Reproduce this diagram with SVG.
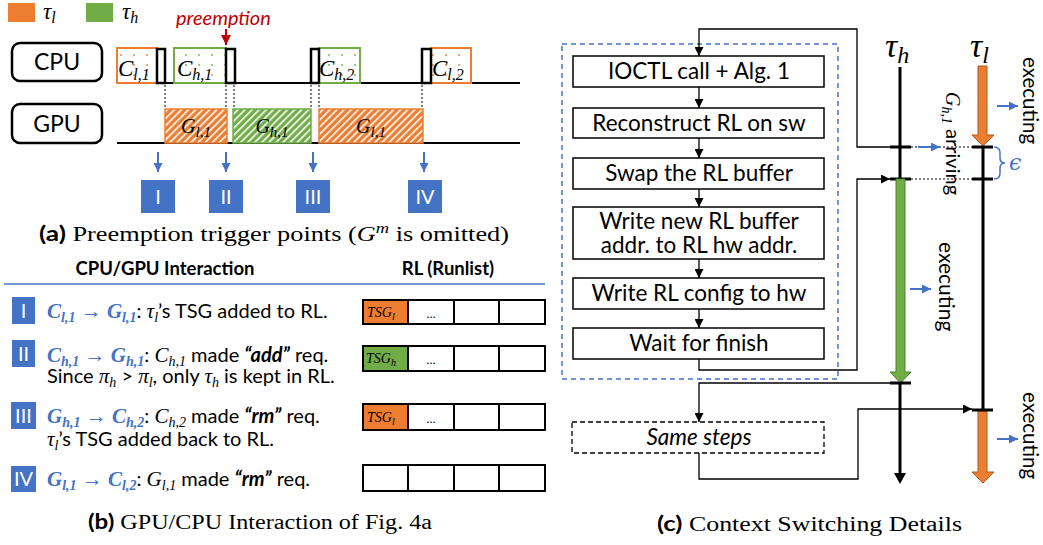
<svg xmlns="http://www.w3.org/2000/svg" width="1043" height="545" viewBox="0 0 1043 545">
<style>
.s{font-family:Lato,'Liberation Sans',sans-serif}
.m{font-family:'Liberation Serif',serif;font-style:italic}
.cap{font-family:'Liberation Serif',serif;font-size:20px}
.t{font-family:Lato,'Liberation Sans',sans-serif;font-size:20px;fill:#000}
.mb{font-family:'Liberation Serif',serif;font-style:italic;font-weight:bold;fill:#4472C4;font-size:21px}
.mbs{font-family:'Liberation Serif',serif;font-style:italic;font-weight:bold;fill:#4472C4;font-size:14px}
.mi{font-family:'Liberation Serif',serif;font-style:italic;font-size:21px}
.mis{font-family:'Liberation Serif',serif;font-style:italic;font-size:14px}
.box{fill:#fff;stroke:#000;stroke-width:1.5}
.cell{fill:#fff;stroke:#000;stroke-width:2}
.bt{font-family:Lato,'Liberation Sans',sans-serif;font-size:22.5px;text-anchor:middle}
.dot{stroke:#7f7f7f;stroke-width:2;stroke-dasharray:2 2;fill:none}
.tick{stroke:#000;stroke-width:3}
.con{fill:none;stroke:#000;stroke-width:1.3}
.ba{stroke:#4472C4;stroke-width:2;fill:none}
.sq{fill:#4472C4}
.sqt{font-family:Lato,'Liberation Sans',sans-serif;font-size:20px;fill:#fff;text-anchor:middle}
</style>
<defs>
<pattern id="hO" width="5" height="5" patternUnits="userSpaceOnUse" patternTransform="rotate(45)">
<rect width="5" height="5" fill="#ED7D31"/><rect width="1.6" height="5" fill="#fff"/></pattern>
<pattern id="hG" width="5" height="5" patternUnits="userSpaceOnUse" patternTransform="rotate(45)">
<rect width="5" height="5" fill="#70AD47"/><rect width="1.6" height="5" fill="#fff"/></pattern>
<pattern id="dO" width="13" height="10" patternUnits="userSpaceOnUse">
<rect width="13" height="10" fill="#fff"/><circle cx="4" cy="5" r="0.9" fill="#ED7D31"/></pattern>
<pattern id="dG" width="13" height="10" patternUnits="userSpaceOnUse">
<rect width="13" height="10" fill="#fff"/><circle cx="4" cy="5" r="0.9" fill="#70AD47"/></pattern>
<marker id="ak" viewBox="0 0 10 10" refX="10" refY="5" markerWidth="9" markerHeight="9" markerUnits="userSpaceOnUse" orient="auto"><path d="M0,0L10,5L0,10z" fill="#000"/></marker>
<marker id="ab" viewBox="0 0 10 10" refX="10" refY="5" markerWidth="9" markerHeight="9" markerUnits="userSpaceOnUse" orient="auto"><path d="M0,0L10,5L0,10z" fill="#4472C4"/></marker>
<marker id="ar" viewBox="0 0 10 10" refX="10" refY="5" markerWidth="10" markerHeight="10" markerUnits="userSpaceOnUse" orient="auto"><path d="M0,0L10,5L0,10z" fill="#C00000"/></marker>
</defs>

<!-- Legend -->
<g id="legend">
<rect x="8" y="3" width="27" height="19" fill="#ED7D31"/>
<text x="43" y="19" class="m" font-size="23">τ<tspan font-size="16" dy="4">l</tspan></text>
<rect x="86" y="3" width="27" height="19" fill="#70AD47"/>
<text x="122" y="19" class="m" font-size="23">τ<tspan font-size="16" dy="4">h</tspan></text>
</g>

<!-- Panel a -->
<g id="cpu">
<rect x="12" y="43" width="90" height="38" rx="8" fill="#fff" stroke="#000" stroke-width="2.5"/>
<text x="57" y="70" class="s" font-size="23" text-anchor="middle">CPU</text>
</g>
<g id="gpu">
<rect x="12" y="104" width="90" height="39" rx="8" fill="#fff" stroke="#000" stroke-width="2.5"/>
<text x="57" y="132" class="s" font-size="23" text-anchor="middle">GPU</text>
</g>
<g id="axes">
<line x1="117" y1="83" x2="520" y2="83" stroke="#000" stroke-width="2"/>
<line x1="117" y1="143" x2="520" y2="143" stroke="#000" stroke-width="2"/>
</g>
<g id="preempt">
<text x="176" y="25" class="s" font-size="20" font-style="italic" fill="#C00000">preemption</text>
<line x1="226" y1="29" x2="226" y2="45" stroke="#C00000" stroke-width="2" marker-end="url(#ar)"/>
</g>
<g id="cpu-tasks">
<rect x="117" y="48" width="40" height="35" fill="url(#dO)" stroke="#ED7D31" stroke-width="2"/>
<rect x="157" y="49" width="8" height="34" fill="#fff" stroke="#000" stroke-width="2.5"/>
<text x="118" y="76" class="m" font-size="23">C<tspan font-size="16" dy="4">l,1</tspan></text>
<rect x="174" y="48" width="52" height="35" fill="url(#dG)" stroke="#70AD47" stroke-width="2"/>
<rect x="226" y="49" width="9" height="34" fill="#fff" stroke="#000" stroke-width="2.5"/>
<text x="177" y="76" class="m" font-size="23">C<tspan font-size="16" dy="4">h,1</tspan></text>
<rect x="319" y="48" width="41" height="35" fill="url(#dG)" stroke="#70AD47" stroke-width="2"/>
<rect x="311" y="49" width="8" height="34" fill="#fff" stroke="#000" stroke-width="2.5"/>
<text x="319" y="76" class="m" font-size="23">C<tspan font-size="16" dy="4">h,2</tspan></text>
<rect x="431" y="48" width="40" height="35" fill="url(#dO)" stroke="#ED7D31" stroke-width="2"/>
<rect x="422" y="49" width="9" height="34" fill="#fff" stroke="#000" stroke-width="2.5"/>
<text x="432" y="76" class="m" font-size="23">C<tspan font-size="16" dy="4">l,2</tspan></text>
</g>
<g id="gpu-tasks">
<rect x="165" y="109" width="62" height="34" fill="url(#hO)" stroke="#ED7D31" stroke-width="1.5"/>
<text x="196" y="133" class="m" font-size="20" text-anchor="middle">G<tspan font-size="15" dy="4">l,1</tspan></text>
<rect x="233" y="109" width="78" height="34" fill="url(#hG)" stroke="#70AD47" stroke-width="1.5"/>
<text x="272" y="133" class="m" font-size="20" text-anchor="middle">G<tspan font-size="15" dy="4">h,1</tspan></text>
<rect x="319" y="109" width="104" height="34" fill="url(#hO)" stroke="#ED7D31" stroke-width="1.5"/>
<text x="371" y="133" class="m" font-size="20" text-anchor="middle">G<tspan font-size="15" dy="4">l,1</tspan></text>
</g>
<g id="dotted">
<line class="dot" x1="165" y1="85" x2="165" y2="109"/>
<line class="dot" x1="226" y1="85" x2="226" y2="109"/>
<line class="dot" x1="234" y1="85" x2="234" y2="109"/>
<line class="dot" x1="311" y1="85" x2="311" y2="109"/>
<line class="dot" x1="319" y1="85" x2="319" y2="109"/>
<line class="dot" x1="422" y1="85" x2="422" y2="109"/>
</g>
<g id="triggers">
<line class="ba" x1="158" y1="152" x2="158" y2="172" marker-end="url(#ab)"/>
<line class="ba" x1="226" y1="152" x2="226" y2="172" marker-end="url(#ab)"/>
<line class="ba" x1="313" y1="152" x2="313" y2="172" marker-end="url(#ab)"/>
<line class="ba" x1="424" y1="152" x2="424" y2="172" marker-end="url(#ab)"/>
<rect class="sq" x="141" y="180" width="34" height="33"/><text class="sqt" x="158" y="204">I</text>
<rect class="sq" x="209" y="180" width="34" height="33"/><text class="sqt" x="226" y="204">II</text>
<rect class="sq" x="296" y="180" width="34" height="33"/><text class="sqt" x="313" y="204">III</text>
<rect class="sq" x="408" y="180" width="34" height="33"/><text class="sqt" x="425" y="204">IV</text>
</g>
<text x="39" y="241" class="cap" textLength="470" lengthAdjust="spacingAndGlyphs"><tspan class="s" font-weight="bold">(a)</tspan> Preemption trigger points (<tspan font-style="italic">G</tspan><tspan font-style="italic" font-size="14" dy="-8">m</tspan><tspan dy="8"> is omitted)</tspan></text>

<!-- Panel b -->
<g id="table-head">
<text x="165" y="275" class="s" font-size="18.5" font-weight="bold" text-anchor="middle">CPU/GPU Interaction</text>
<text x="448" y="275" class="s" font-size="18.5" font-weight="bold" text-anchor="middle">RL (Runlist)</text>
<line x1="4" y1="284" x2="545" y2="284" stroke="#4472C4" stroke-width="1.5"/>
</g>
<g id="row1">
<rect class="sq" x="12" y="297" width="23" height="27"/><text class="sqt" x="23.5" y="318" font-size="17">I</text>
<text x="47" y="318" class="t"><tspan class="mb">C</tspan><tspan class="mbs" dy="4">l,1</tspan><tspan class="mb" dy="-4"> → G</tspan><tspan class="mbs" dy="4">l,1</tspan><tspan dy="-4">: </tspan><tspan class="mi">τ</tspan><tspan class="mis" dy="4">l</tspan><tspan dy="-4">’s TSG added to RL.</tspan></text>
<rect x="363" y="300" width="45" height="24" fill="#ED7D31" stroke="#000" stroke-width="2"/>
<rect class="cell" x="408" y="300" width="46" height="24"/><rect class="cell" x="454" y="300" width="45" height="24"/><rect class="cell" x="499" y="300" width="46" height="24"/>
<text x="367" y="317" class="m" font-size="14">TSG<tspan font-size="10" dy="3">l</tspan></text>
<text x="431" y="318" class="s" font-size="12" text-anchor="middle">…</text>
</g>
<g id="row2">
<rect class="sq" x="12" y="340" width="23" height="27"/><text class="sqt" x="23.5" y="361" font-size="17">II</text>
<text x="47" y="362" class="t"><tspan class="mb">C</tspan><tspan class="mbs" dy="4">h,1</tspan><tspan class="mb" dy="-4"> → G</tspan><tspan class="mbs" dy="4">h,1</tspan><tspan dy="-4">: </tspan><tspan class="mi">C</tspan><tspan class="mis" dy="4">h,1</tspan><tspan dy="-4"> made </tspan><tspan font-weight="bold" font-style="italic">“add”</tspan> req.</text>
<text x="47" y="383" class="t">Since <tspan class="mi">π</tspan><tspan class="mis" dy="4">h</tspan><tspan dy="-4"> &gt; </tspan><tspan class="mi">π</tspan><tspan class="mis" dy="4">l</tspan><tspan dy="-4">, only </tspan><tspan class="mi">τ</tspan><tspan class="mis" dy="4">h</tspan><tspan dy="-4"> is kept in RL.</tspan></text>
<rect x="363" y="346" width="45" height="25" fill="#70AD47" stroke="#000" stroke-width="2"/>
<rect class="cell" x="408" y="346" width="46" height="25"/><rect class="cell" x="454" y="346" width="45" height="25"/><rect class="cell" x="499" y="346" width="46" height="25"/>
<text x="366" y="363" class="m" font-size="14">TSG<tspan font-size="10" dy="3">h</tspan></text>
<text x="431" y="364" class="s" font-size="12" text-anchor="middle">…</text>
</g>
<g id="row3">
<rect class="sq" x="11" y="402" width="25" height="27"/><text class="sqt" x="23.5" y="423" font-size="17">III</text>
<text x="47" y="423" class="t"><tspan class="mb">G</tspan><tspan class="mbs" dy="4">h,1</tspan><tspan class="mb" dy="-4"> → C</tspan><tspan class="mbs" dy="4">h,2</tspan><tspan dy="-4">: </tspan><tspan class="mi">C</tspan><tspan class="mis" dy="4">h,2</tspan><tspan dy="-4"> made </tspan><tspan font-weight="bold" font-style="italic">“rm”</tspan> req.</text>
<text x="47" y="446" class="t"><tspan class="mi">τ</tspan><tspan class="mis" dy="4">l</tspan><tspan dy="-4">’s TSG added back to RL.</tspan></text>
<rect x="363" y="404" width="45" height="26" fill="#ED7D31" stroke="#000" stroke-width="2"/>
<rect class="cell" x="408" y="404" width="46" height="26"/><rect class="cell" x="454" y="404" width="45" height="26"/><rect class="cell" x="499" y="404" width="46" height="26"/>
<text x="367" y="422" class="m" font-size="14">TSG<tspan font-size="10" dy="3">l</tspan></text>
<text x="431" y="423" class="s" font-size="12" text-anchor="middle">…</text>
</g>
<g id="row4">
<rect class="sq" x="11" y="466" width="25" height="26"/><text class="sqt" x="23.5" y="486" font-size="17">IV</text>
<text x="47" y="486" class="t"><tspan class="mb">G</tspan><tspan class="mbs" dy="4">l,1</tspan><tspan class="mb" dy="-4"> → C</tspan><tspan class="mbs" dy="4">l,2</tspan><tspan dy="-4">: </tspan><tspan class="mi">G</tspan><tspan class="mis" dy="4">l,1</tspan><tspan dy="-4"> made </tspan><tspan font-weight="bold" font-style="italic">“rm”</tspan> req.</text>
<rect class="cell" x="363" y="465" width="45" height="26"/><rect class="cell" x="408" y="465" width="46" height="26"/><rect class="cell" x="454" y="465" width="45" height="26"/><rect class="cell" x="499" y="465" width="46" height="26"/>
</g>
<text x="88" y="529" class="cap" textLength="344" lengthAdjust="spacingAndGlyphs"><tspan class="s" font-weight="bold">(b)</tspan> GPU/CPU Interaction of Fig. 4a</text>

<!-- Panel c -->
<rect id="group-box" x="562" y="44" width="276" height="335" fill="none" stroke="#4472C4" stroke-width="1.5" stroke-dasharray="5 4"/>
<g id="n1"><rect class="box" x="573" y="56" width="251" height="31"/><text class="bt" x="699" y="79">IOCTL call + Alg. 1</text></g>
<g id="n2"><rect class="box" x="573" y="108" width="251" height="30"/><text class="bt" x="699" y="131">Reconstruct RL on sw</text></g>
<g id="n3"><rect class="box" x="573" y="158" width="251" height="31"/><text class="bt" x="699" y="181">Swap the RL buffer</text></g>
<g id="n4"><rect class="box" x="573" y="207" width="251" height="52"/><text class="bt" x="699" y="229">Write new RL buffer</text><text class="bt" x="699" y="253">addr. to RL hw addr.</text></g>
<g id="n5"><rect class="box" x="573" y="278" width="251" height="31"/><text class="bt" x="699" y="301">Write RL config to hw</text></g>
<g id="n6"><rect class="box" x="573" y="328" width="251" height="31"/><text class="bt" x="699" y="351">Wait for finish</text></g>
<g id="n7"><rect x="572" y="422" width="252" height="31" fill="#fff" stroke="#000" stroke-width="1.3" stroke-dasharray="5 3"/><text class="bt" x="699" y="445" font-style="italic">Same steps</text></g>

<g id="connectors">
<path class="con" d="M893 147H857V29H699V56" marker-end="url(#ak)"/>
<path class="con" d="M699 87V108" marker-end="url(#ak)"/>
<path class="con" d="M699 138V158" marker-end="url(#ak)"/>
<path class="con" d="M699 189V207" marker-end="url(#ak)"/>
<path class="con" d="M699 259V278" marker-end="url(#ak)"/>
<path class="con" d="M699 309V328" marker-end="url(#ak)"/>
<path class="con" d="M699 359V370H857V179H890" marker-end="url(#ak)"/>
<path class="con" d="M893 383H699V422" marker-end="url(#ak)"/>
<path class="con" d="M699 453V479H858V409H972" marker-end="url(#ak)"/>
</g>

<g id="tau-h">
<text x="885" y="57" class="m" font-size="34">τ<tspan font-size="24" dy="6">h</tspan></text>
<line x1="900" y1="67" x2="900" y2="179" stroke="#000" stroke-width="3"/>
<line class="tick" x1="890" y1="147" x2="911" y2="147"/>
<line class="tick" x1="890" y1="179" x2="911" y2="179"/>
<path d="M896 179H905V372H911L900.5 383L890 372H896Z" fill="#70AD47" stroke="#507E32" stroke-width="1"/>
<line class="tick" x1="890" y1="383" x2="911" y2="383"/>
<line x1="900" y1="383" x2="900" y2="474" stroke="#000" stroke-width="3"/>
<path d="M894 473H906L900 484Z" fill="#000"/>
</g>
<g id="tau-l">
<text x="970" y="57" class="m" font-size="34">τ<tspan font-size="24" dy="6">l</tspan></text>
<path d="M978 66H987V135H994L983 146L972 135H978Z" fill="#ED7D31" stroke="#AE5A21" stroke-width="1"/>
<line x1="983" y1="147" x2="983" y2="410" stroke="#000" stroke-width="3"/>
<line class="tick" x1="972" y1="147" x2="993" y2="147"/>
<line class="tick" x1="972" y1="179" x2="993" y2="179"/>
<path d="M978 411H987V472H994L983 483L972 472H978Z" fill="#ED7D31" stroke="#AE5A21" stroke-width="1"/>
<line class="tick" x1="972" y1="410" x2="993" y2="410"/>
</g>
<g id="annotations">
<line class="dot" x1="911" y1="147" x2="972" y2="147" stroke-width="1.3"/>
<line class="dot" x1="911" y1="179" x2="972" y2="179" stroke-width="1.3"/>
<line class="ba" x1="918" y1="147" x2="940" y2="147" marker-end="url(#ab)"/>
<line class="ba" x1="997" y1="106" x2="1018" y2="106" marker-end="url(#ab)"/>
<line class="ba" x1="910" y1="289" x2="931" y2="289" marker-end="url(#ab)"/>
<line class="ba" x1="997" y1="439" x2="1018" y2="439" marker-end="url(#ab)"/>
<path d="M994 147Q1000 147 1000 153V158Q1000 163 1005 163Q1000 163 1000 168V173Q1000 179 994 179" fill="none" stroke="#4472C4" stroke-width="1.5"/>
<text x="1009" y="170" font-family="'DejaVu Serif',serif" font-style="italic" font-size="22" fill="#4472C4">ϵ</text>
<text transform="translate(946,92) rotate(90)" class="s" font-size="20"><tspan class="m">G</tspan><tspan class="m" font-size="14" dy="4">h,1</tspan><tspan dy="-4"> arriving</tspan></text>
<text transform="translate(1023,57) rotate(90)" class="s" font-size="20.5">executing</text>
<text transform="translate(939,242) rotate(90)" class="s" font-size="21">executing</text>
<text transform="translate(1023,392) rotate(90)" class="s" font-size="20.5">executing</text>
</g>
<text x="657" y="531" class="cap" textLength="305" lengthAdjust="spacingAndGlyphs"><tspan class="s" font-weight="bold">(c)</tspan> Context Switching Details</text>
</svg>
